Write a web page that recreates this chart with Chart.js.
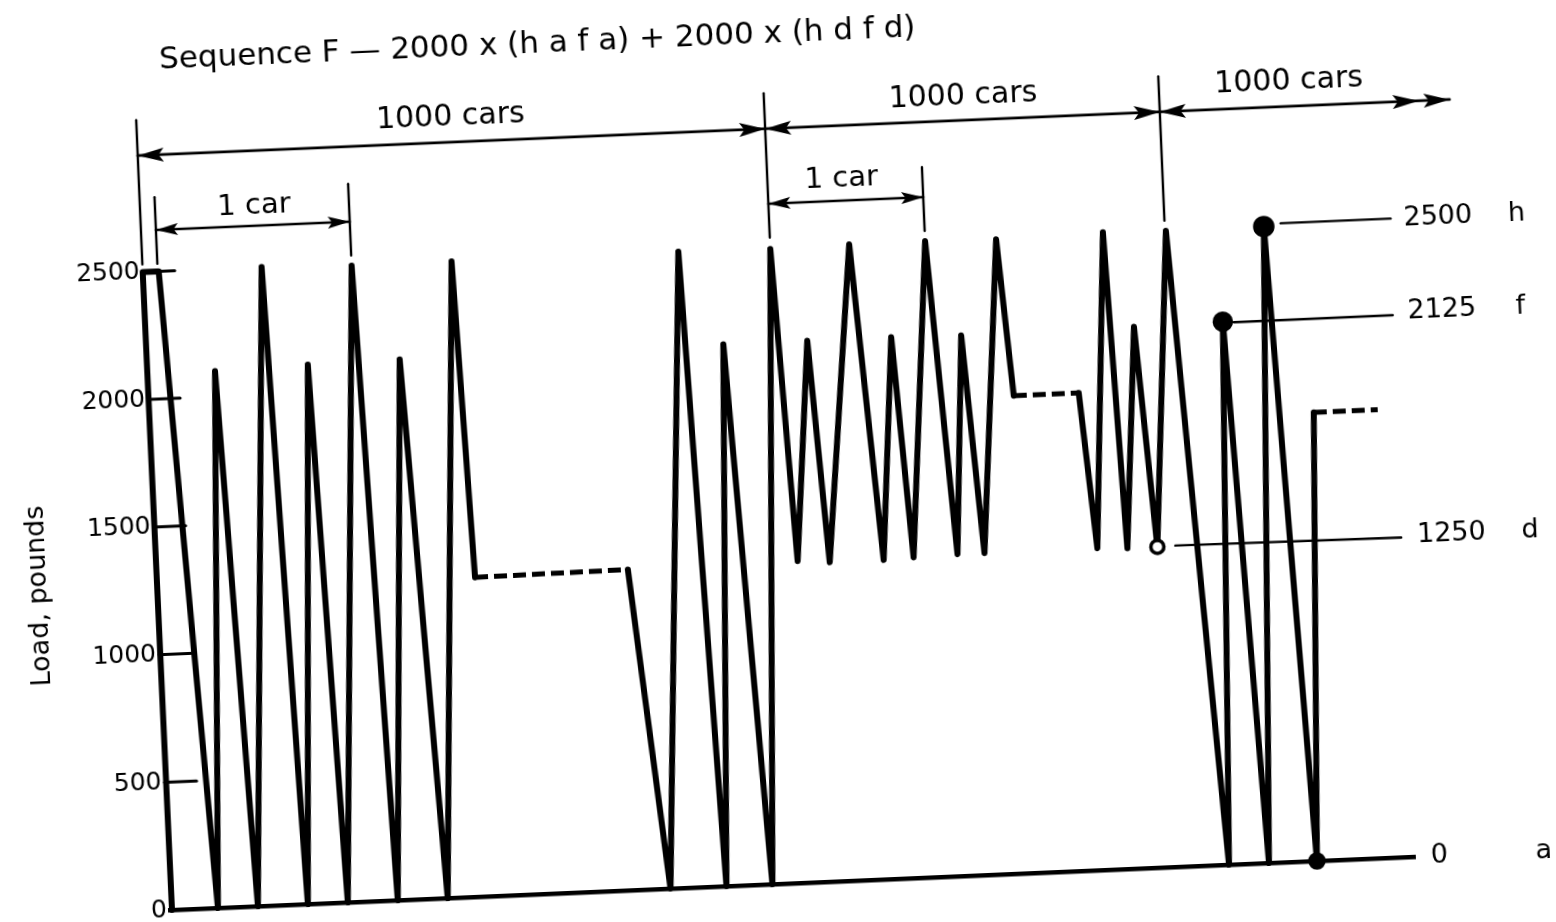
<!DOCTYPE html>
<html>
<head>
<meta charset="utf-8">
<script src="https://cdn.jsdelivr.net/npm/chart.js@4.4.1/dist/chart.umd.min.js"></script>
<style>
  html, body { margin: 0; padding: 0; background: #fff; overflow: hidden; width: 1556px; height: 922px; }
  #wrap { position: absolute; left: 0; top: 0; width: 1700px; height: 930px;
          transform-origin: 170px 910px; transform: rotate(-2.45deg); }
</style>
</head>
<body>
<div id="wrap"><canvas id="c"></canvas></div>
<script>
// ---- data (x = position along the record, y = load in pounds) ----
const positions = [2, 0, 16, 48, 68, 88, 119, 138, 161, 178, 209, 228, 253, 278, 309, 319,
  472, 501, 536, 557, 577, 603, 628, 642, 661, 674, 707, 728, 745, 758, 783, 802, 815, 829,
  854, 865, 930, 942, 961, 972, 988, 1002, 1024, 1060, 1077, 1100, 1122, 1148, 1164, 1228];
const loads = [0, 2500, 2500, 0, 2100, 0, 2500, 0, 2110, 0, 2490, 0, 2115, 0, 2490, 1250,
  1255, 0, 2490, 0, 2120, 0, 2485, 1260, 2120, 1250, 2490, 1250, 2120, 1255, 2490, 1260, 2115, 1260,
  2485, 1870, 1870, 1260, 2495, 1255, 2120, 1255, 2490, 0, 2125, 0, 2490, 0, 1755, 1755];
const dashedSegmentStarts = [15, 35, 48];
const markerIndices = [41, 44, 46, 47];      // d (open), f, h, a
const openMarkerIndices = [41];
const yTickValues = [0, 500, 1000, 1500, 2000, 2500];
const levelNumbers = ['2500', '2125', '1250', '0'];
const levelLetters = ['h', 'f', 'd', 'a'];
const levelValues = [2498, 2135, 1255, 0];
const titleText = 'Sequence F \u2014 2000 x (h a f a) + 2000 x (h d f d)';
const yAxisTitle = 'Load, pounds';
const spanLabel = '1000 cars';
const carLabel = '1 car';

const FONT = '"DejaVu Sans", "Liberation Sans", sans-serif';

const annotations = {
  id: 'annotations',
  afterDatasetsDraw(chart) {
    const { ctx, scales: { x, y } } = chart;
    const X = v => x.getPixelForValue(v);
    const Y = v => y.getPixelForValue(v);
    const line = (x1, y1, x2, y2, w) => {
      ctx.lineWidth = w; ctx.beginPath(); ctx.moveTo(x1, y1); ctx.lineTo(x2, y2); ctx.stroke();
    };
    const head = (tx, ty, dir, L, W) => {
      ctx.beginPath(); ctx.moveTo(tx, ty);
      ctx.lineTo(tx - dir * L, ty - W); ctx.lineTo(tx - dir * L * 0.8, ty);
      ctx.lineTo(tx - dir * L, ty + W); ctx.closePath(); ctx.fill();
    };
    const text = (s, px, py, size, align) => {
      ctx.font = size + 'px ' + FONT; ctx.textAlign = align || 'center';
      ctx.textBaseline = 'middle'; ctx.fillText(s, px, py);
    };
    ctx.save();
    ctx.strokeStyle = '#000'; ctx.fillStyle = '#000'; ctx.lineCap = 'round';

    // y tick marks (drawn to the right of the axis, as in the figure)
    yTickValues.forEach(v => { if (v > 0) line(X(0), Y(v), X(0) + 32, Y(v), 3); });

    // title
    text(titleText, X(404), Y(3324), 31);

    // extension lines
    [0, 628, 1023].forEach(v => line(X(v), Y(2530), X(v), Y(3095), 2.4));
    line(X(15), Y(2530), X(15), Y(2790), 2.4);
    line(X(209), Y(2530), X(209), Y(2810), 2.4);
    line(X(783), Y(2530), X(783), Y(2780), 2.4);

    // 1000 cars dimension lines
    const dimY = Y(2956);
    line(X(0), dimY, X(1313), dimY, 2.8);
    head(X(0), dimY, -1, 26, 7); head(X(628), dimY, 1, 26, 7);
    head(X(628), dimY, -1, 26, 7); head(X(1023), dimY, 1, 26, 7);
    head(X(1023), dimY, -1, 26, 7); head(X(1282), dimY, 1, 26, 7); head(X(1313), dimY, 1, 26, 7);
    text(spanLabel, X(314), Y(3054), 30);
    text(spanLabel, X(827), Y(3050), 30);
    text(spanLabel, X(1153), Y(3054), 30);

    // 1 car dimension lines
    const carY = Y(2662);
    line(X(15), carY, X(209), carY, 2.6);
    head(X(15), carY, -1, 22, 6); head(X(209), carY, 1, 22, 6);
    line(X(628), carY, X(783), carY, 2.6);
    head(X(628), carY, -1, 22, 6); head(X(783), carY, 1, 22, 6);
    text(carLabel, X(114), Y(2740), 29);
    text(carLabel, X(702), Y(2745), 29);

    // leaders to level labels
    line(X(1139), Y(2500), X(1249), Y(2500), 2.4);
    line(X(1088), Y(2121), X(1247), Y(2122), 2.4);
    line(X(1020), Y(1257), X(1246), Y(1251), 2.4);

    levelNumbers.forEach((s, i) => text(s, X(1262), Y(levelValues[i]), 27, 'left'));
    levelLetters.forEach((s, i) => text(s, X(1375), Y(levelValues[i]), 27, 'center'));
    ctx.restore();
  }
};

const markerRadius = [6.5, 8.5, 9, 7];

new Chart(document.getElementById('c'), {
  type: 'line',
  data: {
    datasets: [{
      data: positions.map((p, i) => ({ x: p, y: loads[i] })),
      borderColor: '#000',
      borderWidth: 6,
      borderJoinStyle: 'round',
      borderCapStyle: 'round',
      tension: 0,
      fill: false,
      clip: false,
      pointRadius: ctx => { const k = markerIndices.indexOf(ctx.dataIndex); return k < 0 ? 0 : markerRadius[k]; },
      pointHoverRadius: 0,
      pointBackgroundColor: ctx => openMarkerIndices.includes(ctx.dataIndex) ? '#fff' : '#000',
      pointBorderColor: '#000',
      pointBorderWidth: 3.5,
      segment: {
        borderDash: ctx => dashedSegmentStarts.includes(ctx.p0DataIndex) ? [13, 6] : undefined,
        borderWidth: ctx => dashedSegmentStarts.includes(ctx.p0DataIndex) ? 5 : undefined,
        borderCapStyle: ctx => dashedSegmentStarts.includes(ctx.p0DataIndex) ? 'butt' : undefined
      }
    }]
  },
  options: {
    responsive: true,
    maintainAspectRatio: false,
    animation: false,
    events: [],
    layout: { padding: { top: 271.4, left: 0, right: 283, bottom: 20 } },
    plugins: { legend: { display: false }, tooltip: { enabled: false }, title: { display: false } },
    scales: {
      x: {
        type: 'linear', min: 0, max: 1247,
        ticks: { display: false },
        grid: { display: true, drawOnChartArea: false, drawTicks: false, lineWidth: 0 },
        border: { display: true, color: '#000', width: 4.5 },
        afterFit: s => { s.height = 0; }
      },
      y: {
        type: 'linear', min: 0, max: 2500,
        afterBuildTicks: s => { s.ticks = yTickValues.map(v => ({ value: v })); },
        ticks: { color: '#000', font: { family: FONT, size: 25 }, padding: 3, callback: v => String(v) },
        grid: { display: false, drawTicks: false },
        border: { display: false },
        title: { display: true, text: yAxisTitle, color: '#000', font: { family: FONT, size: 27 }, padding: { top: 37, bottom: 0 } },
        afterFit: s => { s.width = 170; }
      }
    }
  },
  plugins: [annotations]
});
</script>
</body>
</html>
